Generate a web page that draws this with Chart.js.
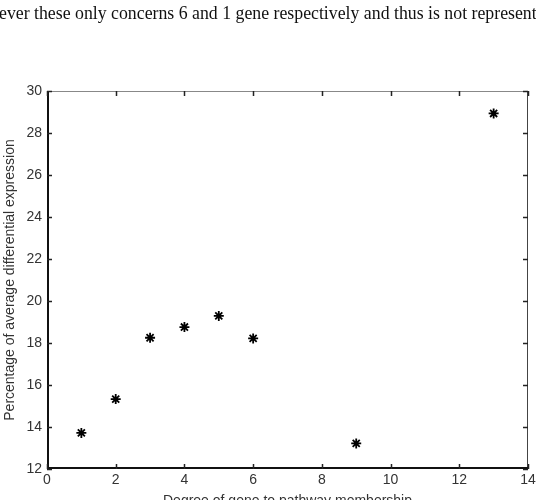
<!DOCTYPE html>
<html>

<head>
  <meta charset="utf-8">
  <title>Degree of gene to pathway membership</title>
  <script src="https://cdn.jsdelivr.net/npm/chart.js@4/dist/chart.umd.min.js"></script>
  <style>
    html,
    body {
      margin: 0;
      padding: 0;
      width: 536px;
      height: 500px;
      overflow: hidden;
      background: #fff;
    }

    #wrap {
      position: relative;
      width: 536px;
      height: 500px;
    }
  </style>
</head>

<body>
  <div id="wrap"><canvas id="chartJSContainer"></canvas></div>
  <script>
    // values
    var degrees = [1, 2, 3, 4, 5, 6, 9, 13];
    var percentages = [13.72, 15.33, 18.25, 18.76, 19.29, 18.22, 13.22, 28.93];
    var xTicks = [0, 2, 4, 6, 8, 10, 12, 14];
    var yTicks = [12, 14, 16, 18, 20, 22, 24, 26, 28, 30];
    var pageText = 'ever these only concerns 6 and 1 gene respectively and thus is not represent';
    var xTitle = 'Degree of gene to pathway membership';
    var yTitle = 'Percentage of average differential expression';

    var points = degrees.map(function(d, i) { return { x: d, y: percentages[i] } });

    // matlab style frame: box + inward ticks on all sides, plus the surrounding text
    var matlabFrame = {
      id: 'matlabFrame',
      afterDraw: function(chart) {
        var ctx = chart.ctx;
        var a = chart.chartArea;
        var xs = chart.scales.x, ys = chart.scales.y;
        ctx.save();
        // box
        ctx.lineWidth = 1;
        ctx.strokeStyle = '#888';
        ctx.beginPath();
        ctx.moveTo(a.left, a.top + 0.5);
        ctx.lineTo(a.right, a.top + 0.5);
        ctx.stroke();
        ctx.strokeStyle = '#444';
        ctx.beginPath();
        ctx.moveTo(a.right - 0.5, a.top);
        ctx.lineTo(a.right - 0.5, a.bottom);
        ctx.stroke();
        ctx.lineWidth = 2;
        ctx.strokeStyle = '#111';
        ctx.beginPath();
        ctx.moveTo(a.left + 1, a.top);
        ctx.lineTo(a.left + 1, a.bottom - 1);
        ctx.lineTo(a.right, a.bottom - 1);
        ctx.stroke();
        // ticks
        ctx.lineWidth = 1.5;
        ctx.strokeStyle = '#222';
        var t = 5;
        xTicks.forEach(function(v) {
          var px = Math.round(xs.getPixelForValue(v)) + 0.5;
          ctx.beginPath();
          ctx.moveTo(px, a.bottom);
          ctx.lineTo(px, a.bottom - t);
          ctx.moveTo(px, a.top);
          ctx.lineTo(px, a.top + t);
          ctx.stroke();
        });
        yTicks.forEach(function(v) {
          var py = Math.round(ys.getPixelForValue(v)) + 0.5;
          ctx.beginPath();
          ctx.moveTo(a.left, py);
          ctx.lineTo(a.left + t, py);
          ctx.moveTo(a.right, py);
          ctx.lineTo(a.right - t, py);
          ctx.stroke();
        });
        // page text above the figure
        ctx.fillStyle = '#111';
        ctx.font = '17.8px "Liberation Serif", "Times New Roman", serif';
        ctx.textBaseline = 'middle';
        ctx.textAlign = 'left';
        ctx.fillText(pageText, -1, 14);
        // axis titles
        ctx.fillStyle = '#333';
        ctx.font = '14px "Liberation Sans", Arial, sans-serif';
        ctx.textAlign = 'center';
        ctx.fillText(xTitle, (a.left + a.right) / 2, 501);
        ctx.translate(10, (a.top + a.bottom) / 2);
        ctx.rotate(-Math.PI / 2);
        ctx.fillText(yTitle, 0, 0);
        ctx.restore();
      }
    };

    var options = {
      type: 'scatter',
      data: {
        datasets: [{
          data: points,
          pointStyle: 'star',
          radius: 5,
          borderWidth: 1.8,
          borderColor: '#000',
          backgroundColor: '#000',
          hoverRadius: 5
        }]
      },
      options: {
        responsive: false,
        animation: false,
        layout: { padding: { top: 91, right: 0, left: 0, bottom: 0 } },
        plugins: {
          legend: { display: false },
          tooltip: { enabled: false }
        },
        scales: {
          x: {
            type: 'linear',
            min: 0,
            max: 14,
            afterBuildTicks: function(s) { s.ticks = xTicks.map(function(v) { return { value: v } }) },
            afterFit: function(s) { s.height = 31; s.paddingRight = 8; s.paddingLeft = 0 },
            grid: { display: false, drawTicks: false },
            border: { display: false },
            ticks: {
              padding: 3,
              color: '#333',
              font: { family: '"Liberation Sans", Arial, sans-serif', size: 14 },
              maxRotation: 0
            }
          },
          y: {
            type: 'linear',
            min: 12,
            max: 30,
            afterBuildTicks: function(s) { s.ticks = yTicks.map(function(v) { return { value: v } }) },
            afterFit: function(s) { s.width = 47; s.paddingTop = 0; s.paddingBottom = 0 },
            grid: { display: false, drawTicks: false },
            border: { display: false },
            ticks: {
              padding: 5,
              color: '#333',
              font: { family: '"Liberation Sans", Arial, sans-serif', size: 14 }
            }
          }
        }
      },
      plugins: [matlabFrame]
    };

    var canvas = document.getElementById('chartJSContainer');
    canvas.width = 536;
    canvas.height = 500;
    var ctx = canvas.getContext('2d');
    window.test = new Chart(ctx, options);
  </script>
</body>

</html>
